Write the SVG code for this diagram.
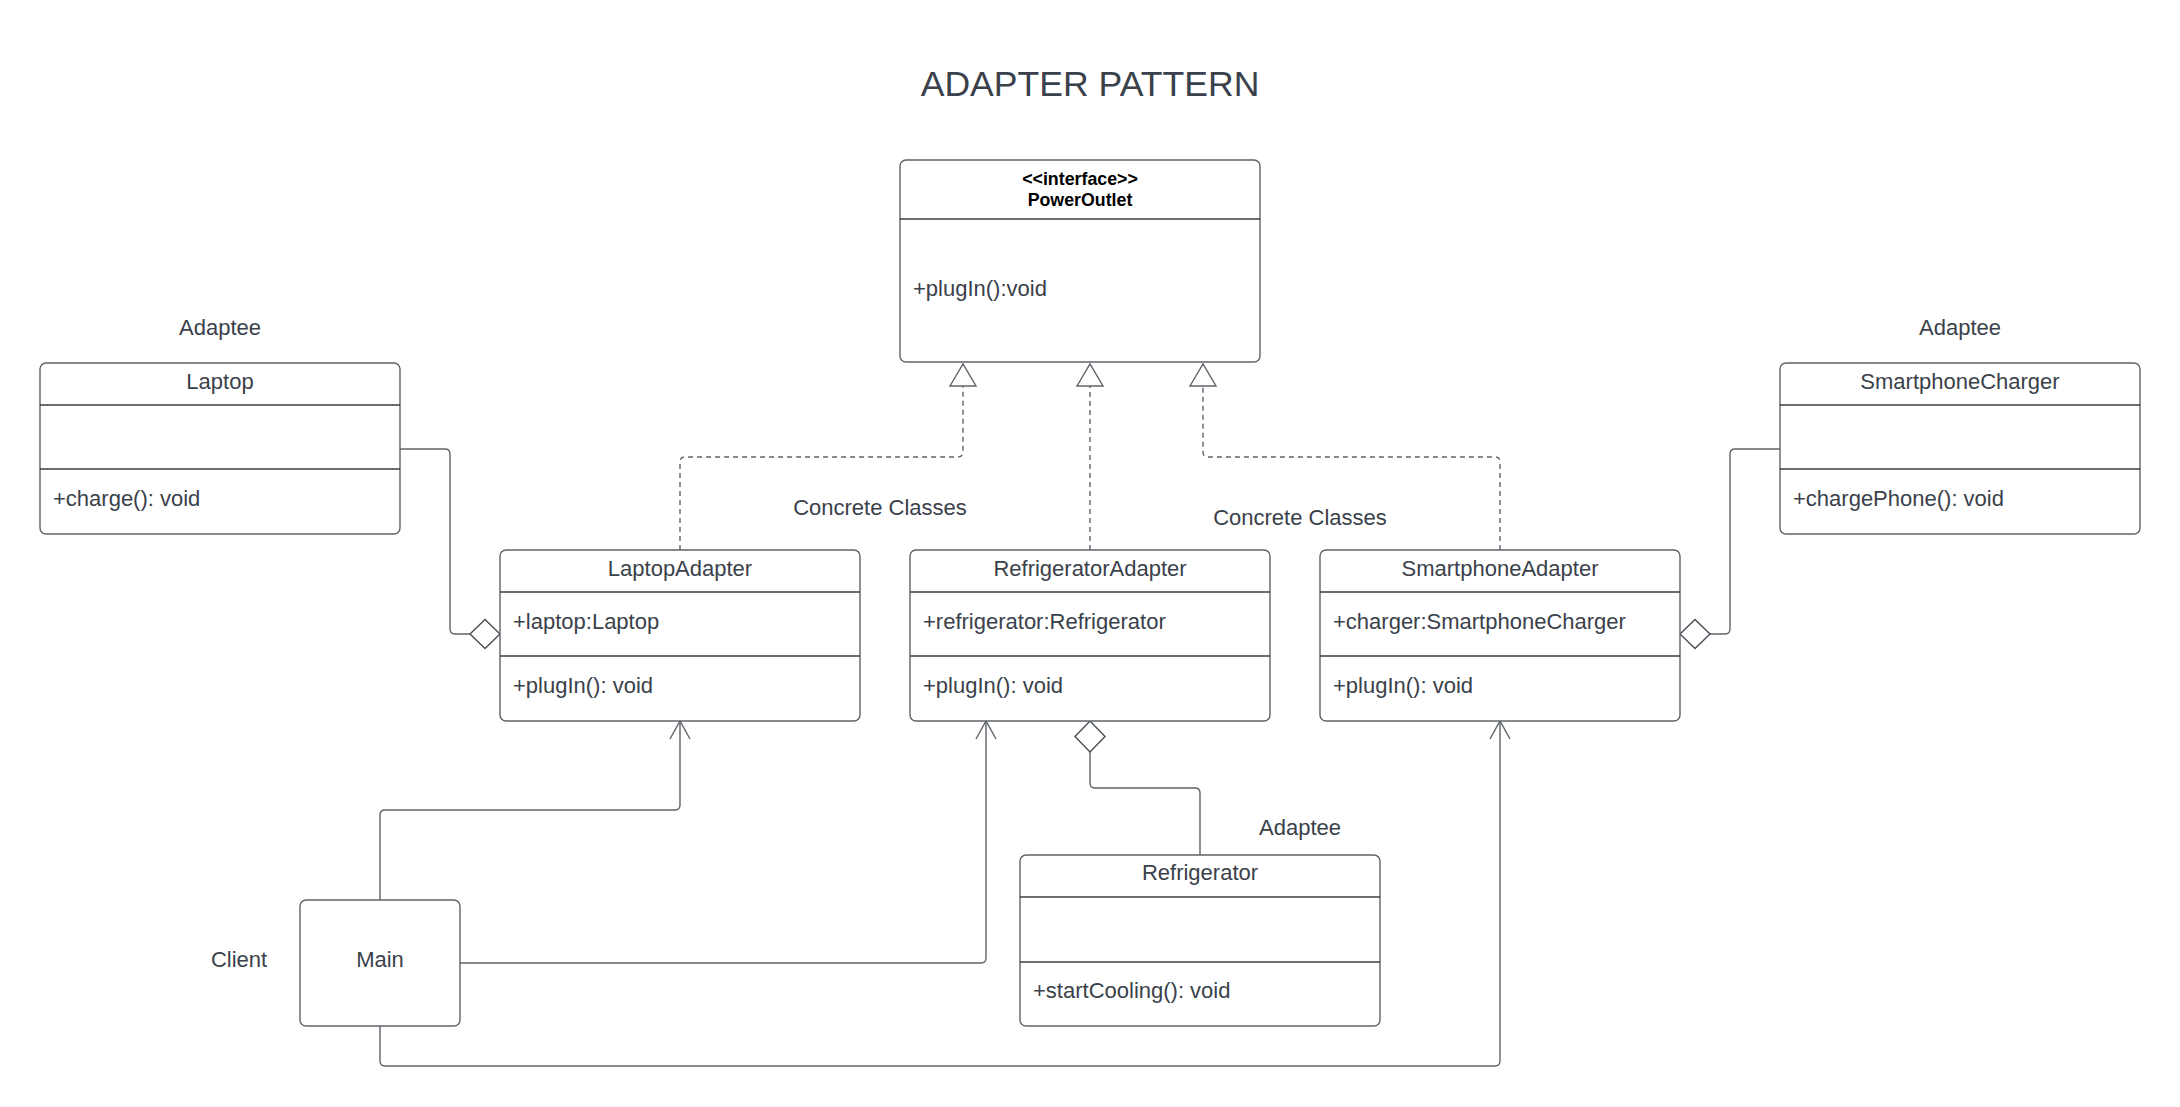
<svg xmlns="http://www.w3.org/2000/svg" width="2180" height="1107" viewBox="0 0 2180 1107">
<style>
.box{fill:#ffffff;stroke:#5f636a;stroke-width:1.4}
.div{stroke:#3a3f46;stroke-width:1.4}
.t{font-family:"Liberation Sans",Arial,sans-serif;font-size:22px;fill:#3a414a}
.c{text-anchor:middle}
.b{font-family:"Liberation Sans",Arial,sans-serif;font-size:17.8px;font-weight:bold;fill:#000000;text-anchor:middle}
.title{font-family:"Liberation Sans",Arial,sans-serif;font-size:35.6px;fill:#3a414a;text-anchor:middle}
.ln{fill:none;stroke:#5f636a;stroke-width:1.4}
.dash{fill:none;stroke:#5f636a;stroke-width:1.4;stroke-dasharray:5 4}
.dia{fill:#ffffff;stroke:#4a4f56;stroke-width:1.4}
</style>
<defs>
<marker id="open" markerUnits="userSpaceOnUse" viewBox="-20 -12 22 24" refX="0" refY="0" markerWidth="22" markerHeight="24" orient="auto" overflow="visible">
<path d="M-18,-10 L0,0 L-18,10" fill="none" stroke="#5f636a" stroke-width="1.4" stroke-dasharray="none"/>
</marker>
<marker id="tri" markerUnits="userSpaceOnUse" viewBox="-24 -15 26 30" refX="0" refY="0" markerWidth="26" markerHeight="30" orient="auto" overflow="visible">
<path d="M-22,-13 L0,0 L-22,13 Z" fill="#ffffff" stroke="#5f636a" stroke-width="1.4" stroke-dasharray="none"/>
</marker>
</defs>
<rect width="2180" height="1107" fill="#ffffff"/>
<text class="title" x="1090" y="96">ADAPTER PATTERN</text>

<g id="connectors">
<path class="dash" d="M680,550 V462 Q680,457 685,457 H958 Q963,457 963,452 V364" marker-end="url(#tri)"/>
<path class="dash" d="M1090,550 V364" marker-end="url(#tri)"/>
<path class="dash" d="M1500,550 V462 Q1500,457 1495,457 H1208 Q1203,457 1203,452 V364" marker-end="url(#tri)"/>
<path class="ln" d="M400,449 H445 Q450,449 450,454 V629 Q450,634 455,634 H470"/>
<polygon class="dia" points="470,634 485,619.5 500,634 485,648.5"/>
<path class="ln" d="M1780,449 H1735 Q1730,449 1730,454 V629 Q1730,634 1725,634 H1710"/>
<polygon class="dia" points="1680,634 1695,619.5 1710,634 1695,648.5"/>
<polygon class="dia" points="1090,721 1105,736.5 1090,752 1075,736.5"/>
<path class="ln" d="M1090,752 V783 Q1090,788 1095,788 H1195 Q1200,788 1200,793 V855"/>
<path class="ln" d="M380,900 V815 Q380,810 385,810 H675 Q680,810 680,805 V721" marker-end="url(#open)"/>
<path class="ln" d="M460,963 H981 Q986,963 986,958 V721" marker-end="url(#open)"/>
<path class="ln" d="M380,1026 V1061 Q380,1066 385,1066 H1495 Q1500,1066 1500,1061 V721" marker-end="url(#open)"/>
</g>

<g id="PowerOutlet">
<rect class="box" x="900" y="160" width="360" height="202" rx="6"/>
<line class="div" x1="900" y1="219" x2="1260" y2="219"/>
<text class="b" x="1080" y="185">&lt;&lt;interface&gt;&gt;</text>
<text class="b" x="1080" y="206">PowerOutlet</text>
<text class="t" x="913" y="296">+plugIn():void</text>
</g>

<g id="Laptop">
<text class="t c" x="220" y="335">Adaptee</text>
<rect class="box" x="40" y="363" width="360" height="171" rx="6"/>
<line class="div" x1="40" y1="405" x2="400" y2="405"/>
<line class="div" x1="40" y1="469" x2="400" y2="469"/>
<text class="t c" x="220" y="389">Laptop</text>
<text class="t" x="53" y="506">+charge(): void</text>
</g>

<g id="SmartphoneCharger">
<text class="t c" x="1960" y="335">Adaptee</text>
<rect class="box" x="1780" y="363" width="360" height="171" rx="6"/>
<line class="div" x1="1780" y1="405" x2="2140" y2="405"/>
<line class="div" x1="1780" y1="469" x2="2140" y2="469"/>
<text class="t c" x="1960" y="389">SmartphoneCharger</text>
<text class="t" x="1793" y="506">+chargePhone(): void</text>
</g>

<g id="labels">
<text class="t c" x="880" y="515">Concrete Classes</text>
<text class="t c" x="1300" y="525">Concrete Classes</text>
<text class="t c" x="239" y="967">Client</text>
</g>

<g id="LaptopAdapter">
<rect class="box" x="500" y="550" width="360" height="171" rx="6"/>
<line class="div" x1="500" y1="592" x2="860" y2="592"/>
<line class="div" x1="500" y1="656" x2="860" y2="656"/>
<text class="t c" x="680" y="576">LaptopAdapter</text>
<text class="t" x="513" y="629">+laptop:Laptop</text>
<text class="t" x="513" y="693">+plugIn(): void</text>
</g>

<g id="RefrigeratorAdapter">
<rect class="box" x="910" y="550" width="360" height="171" rx="6"/>
<line class="div" x1="910" y1="592" x2="1270" y2="592"/>
<line class="div" x1="910" y1="656" x2="1270" y2="656"/>
<text class="t c" x="1090" y="576">RefrigeratorAdapter</text>
<text class="t" x="923" y="629">+refrigerator:Refrigerator</text>
<text class="t" x="923" y="693">+plugIn(): void</text>
</g>

<g id="SmartphoneAdapter">
<rect class="box" x="1320" y="550" width="360" height="171" rx="6"/>
<line class="div" x1="1320" y1="592" x2="1680" y2="592"/>
<line class="div" x1="1320" y1="656" x2="1680" y2="656"/>
<text class="t c" x="1500" y="576">SmartphoneAdapter</text>
<text class="t" x="1333" y="629">+charger:SmartphoneCharger</text>
<text class="t" x="1333" y="693">+plugIn(): void</text>
</g>

<g id="Refrigerator">
<text class="t c" x="1300" y="835">Adaptee</text>
<rect class="box" x="1020" y="855" width="360" height="171" rx="6"/>
<line class="div" x1="1020" y1="897" x2="1380" y2="897"/>
<line class="div" x1="1020" y1="962" x2="1380" y2="962"/>
<text class="t c" x="1200" y="880">Refrigerator</text>
<text class="t" x="1033" y="998">+startCooling(): void</text>
</g>

<g id="Main">
<rect class="box" x="300" y="900" width="160" height="126" rx="6"/>
<text class="t c" x="380" y="967">Main</text>
</g>
</svg>
